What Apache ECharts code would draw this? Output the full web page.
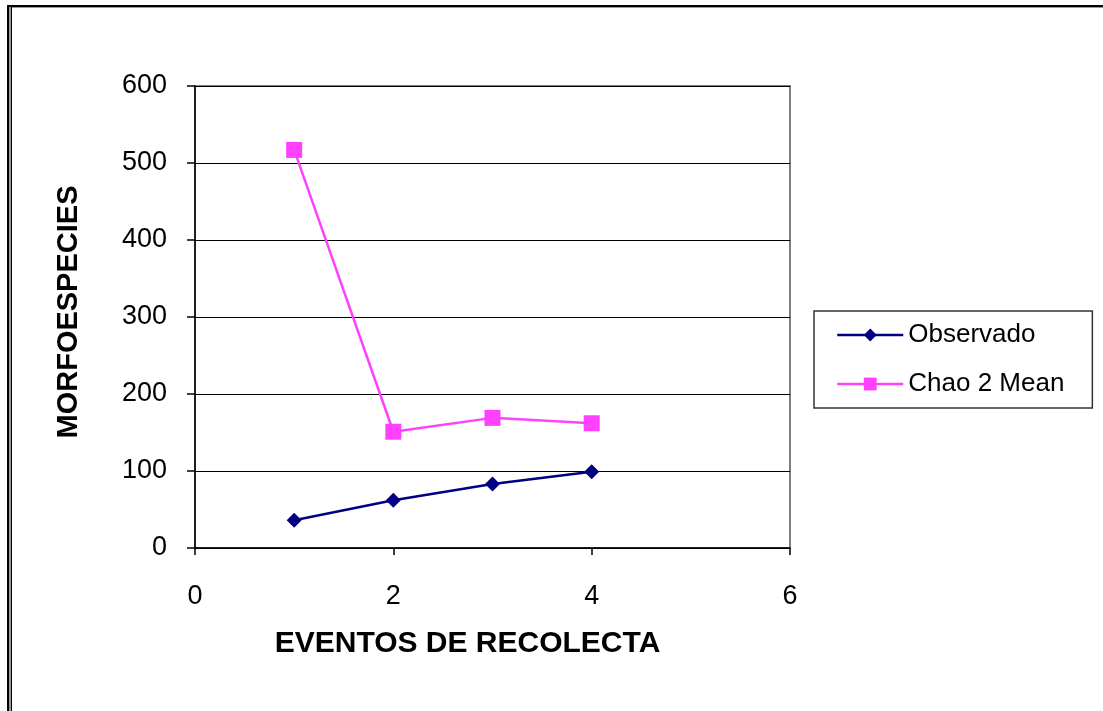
<!DOCTYPE html>
<html>
<head>
<meta charset="utf-8">
<script src="https://cdn.jsdelivr.net/npm/echarts@6/dist/echarts.min.js"></script>
<style>
  html, body { margin: 0; padding: 0; background: #fff; }
  #chart { width: 1103px; height: 711px; }
</style>
</head>
<body>
<div id="chart"></div>
<script>
// Collection events and species counts
const eventos = [1, 2, 3, 4];
const observado = [36, 62, 83, 99];
const chao2Mean = [517, 151, 169, 162];
const xTicks = [0, 2, 4, 6];
const yTicks = [0, 100, 200, 300, 400, 500, 600];

const FONT = '"Liberation Sans", Arial, sans-serif';

const chart = echarts.init(document.getElementById('chart'), null, { renderer: 'canvas' });

const pairs = (xs, ys) => xs.map((x, i) => [x, ys[i]]);

chart.setOption({
  animation: false,
  backgroundColor: '#ffffff',
  textStyle: { fontFamily: FONT },
  grid: {
    left: 195, right: 313, top: 86, bottom: 163,
    show: true, borderColor: '#808080', borderWidth: 2, backgroundColor: 'transparent'
  },
  xAxis: {
    type: 'value',
    min: xTicks[0], max: xTicks[xTicks.length - 1], interval: 2,
    axisLine: { show: true, onZero: false, lineStyle: { color: '#000', width: 1.5 } },
    axisTick: { show: true, inside: false, length: 7, lineStyle: { color: '#000', width: 1.5 } },
    axisLabel: { margin: 35, fontSize: 27, color: '#000', fontFamily: FONT },
    splitLine: { show: false },
    name: 'EVENTOS DE RECOLECTA',
    nameLocation: 'middle',
    nameGap: 81,
    nameTextStyle: { fontSize: 30, fontWeight: 'bold', color: '#000', fontFamily: FONT, padding: [0, 50, 0, 0] }
  },
  yAxis: {
    type: 'value',
    min: yTicks[0], max: yTicks[yTicks.length - 1], interval: 100,
    axisLine: { show: true, lineStyle: { color: '#000', width: 1.5 } },
    axisTick: { show: true, inside: false, length: 8, lineStyle: { color: '#000', width: 1.5 } },
    axisLabel: { margin: 28, fontSize: 27, color: '#000', fontFamily: FONT },
    splitLine: { show: true, lineStyle: { color: '#000', width: 1.2 } },
    name: 'MORFOESPECIES',
    nameLocation: 'middle',
    nameGap: 112,
    nameTextStyle: { fontSize: 29, fontWeight: 'bold', color: '#000', fontFamily: FONT, padding: [0, 0, 0, 10] }
  },
  legend: {
    orient: 'vertical',
    left: 814, top: 311,
    padding: [11, 28, 11, 22],
    itemWidth: 66, itemHeight: 16, itemGap: 23,
    borderColor: '#333', borderWidth: 1.5,
    backgroundColor: '#fff',
    lineStyle: { width: 2.5 },
    textStyle: { fontSize: 26, color: '#000', fontFamily: FONT },
    data: ['Observado', 'Chao 2 Mean']
  },
  series: [
    {
      name: 'Observado',
      type: 'line',
      data: pairs(eventos, observado),
      symbol: 'diamond',
      symbolSize: 15,
      lineStyle: { color: '#000080', width: 2.5 },
      itemStyle: { color: '#000080' }
    },
    {
      name: 'Chao 2 Mean',
      type: 'line',
      data: pairs(eventos, chao2Mean),
      symbol: 'rect',
      symbolSize: 16,
      lineStyle: { color: '#ff40ff', width: 2.5 },
      itemStyle: { color: '#ff40ff' }
    }
  ],
  graphic: [
    // double frame along the top and left edges
    { type: 'rect', shape: { x: 7, y: 5, width: 1096, height: 2 }, style: { fill: '#000' }, silent: true },
    { type: 'rect', shape: { x: 9, y: 7, width: 1094, height: 1 }, style: { fill: '#999' }, silent: true },
    { type: 'rect', shape: { x: 7, y: 5, width: 2, height: 706 }, style: { fill: '#000' }, silent: true },
    { type: 'rect', shape: { x: 9, y: 7, width: 2, height: 704 }, style: { fill: '#999' }, silent: true },
    { type: 'rect', shape: { x: 11, y: 7, width: 1, height: 704 }, style: { fill: '#000' }, silent: true }
  ]
});
</script>
</body>
</html>
